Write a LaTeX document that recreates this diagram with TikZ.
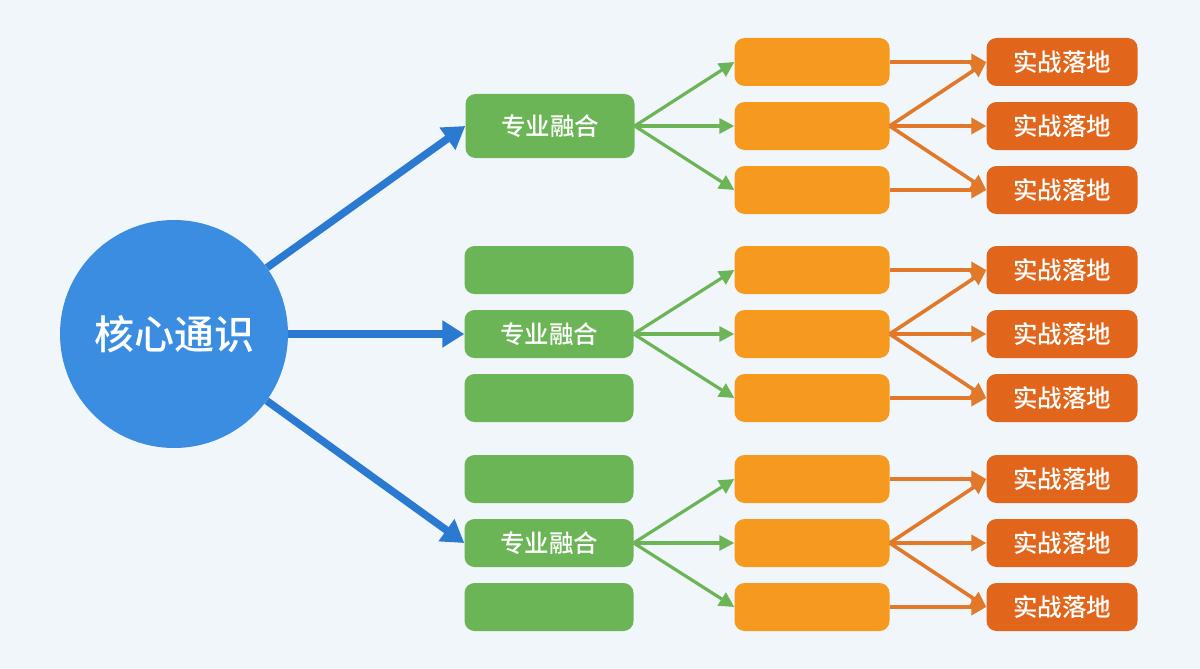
\documentclass[tikz,border=0pt]{standalone}
\usepackage{fontspec}
\setmainfont{Noto Sans CJK SC}
\newfontfamily\cjkmed{Noto Sans CJK SC Medium}
\usetikzlibrary{arrows.meta}
\definecolor{bgcol}{HTML}{F0F6FA}
\definecolor{coreblue}{HTML}{3A8DE0}
\definecolor{arrowblue}{HTML}{2B7AD2}
\definecolor{boxgreen}{HTML}{6CB556}
\definecolor{boxorange}{HTML}{F59A1E}
\definecolor{boxred}{HTML}{E1661B}
\definecolor{arroworange}{HTML}{E2782A}
\tikzset{
core/.style={ % the big circle on the left
circle, fill=coreblue, minimum size=228pt, inner sep=0pt,
text=white, font=\cjkmed\fontsize{40}{40}\selectfont},
gbox/.style={ % green boxes
rectangle, rounded corners=10pt, fill=boxgreen,
minimum width=169pt, minimum height=48pt, inner sep=0pt,
text=white, font=\cjkmed\fontsize{24.5}{24.5}\selectfont},
obox/.style={ % orange boxes, empty
gbox, fill=boxorange, minimum width=155pt},
rbox/.style={ % red boxes at the end
gbox, fill=boxred, minimum width=151pt},
bedge/.style={draw=arrowblue, line width=7.5pt,
-{Triangle[length=22pt,width=26pt]}},
gedge/.style={draw=boxgreen, line width=3.2pt,
-{Triangle[length=15pt,width=15pt]}},
oedge/.style={draw=arroworange, line width=3.6pt,
-{Triangle[length=15pt,width=16pt]}}}

\begin{document}
\begin{tikzpicture}[x=1pt,y=-1pt]
\fill[bgcol] (0,0) rectangle (1200,669);
\useasboundingbox (0,0) rectangle (1200,669);
\node[core] (hx) at (174,334) {核心通识};
% green column
\node[gbox, minimum height=64pt] (g1) at (550,126) {专业融合};
\node[gbox] (g2a) at (549,270) {};
\node[gbox] (g2) at (549,334) {专业融合};
\node[gbox] (g2b) at (549,398) {};
\node[gbox] (g3a) at (549,479) {};
\node[gbox] (g3) at (549,543) {专业融合};
\node[gbox] (g3b) at (549,607) {};
% blue arrows from the circle
\draw[bedge] (hx) -- (g1.west);
\draw[bedge] (hx) -- (g2.west);
\draw[bedge] (hx) -- (g3.west);
% orange and red columns, one group per green box
\foreach \i/\y in {1/126,2/334,3/543}{
\node[obox] (o\i-a) at (812,\y-64) {};
\node[obox] (o\i-b) at (812,\y) {};
\node[obox] (o\i-c) at (812,\y+64) {};
\node[rbox] (r\i-a) at (1062,\y-64) {实战落地};
\node[rbox] (r\i-b) at (1062,\y) {实战落地};
\node[rbox] (r\i-c) at (1062,\y+64) {实战落地};
\draw[gedge] (g\i.east) -- (o\i-a.west);
\draw[gedge] (g\i.east) -- (o\i-b.west);
\draw[gedge] (g\i.east) -- (o\i-c.west);
\draw[oedge] (o\i-a.east) -- (r\i-a.west);
\draw[oedge] (o\i-b.east) -- (r\i-a.west);
\draw[oedge] (o\i-b.east) -- (r\i-b.west);
\draw[oedge] (o\i-b.east) -- (r\i-c.west);
\draw[oedge] (o\i-c.east) -- (r\i-c.west);
}
\end{tikzpicture}
\end{document}
